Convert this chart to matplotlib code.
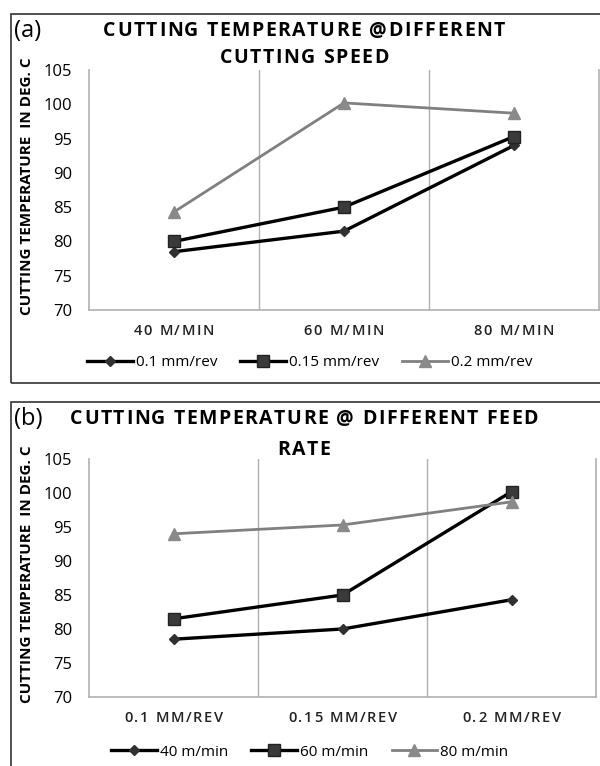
import numpy as np
import matplotlib
matplotlib.use('Agg')
import matplotlib.pyplot as plt
from matplotlib.patches import Rectangle

# panel (a): temperature vs cutting speed, one line per feed
speed_labels = ['40 M/MIN', '60 M/MIN', '80 M/MIN']
feed_names = ['0.1 mm/rev', '0.15 mm/rev', '0.2 mm/rev']
temp_f01 = [78.5, 81.5, 94.0]
temp_f015 = [80.0, 85.0, 95.3]
temp_f02 = [84.3, 100.2, 98.7]

# panel (b): temperature vs feed rate, one line per speed
feed_labels = ['0.1 MM/REV', '0.15 MM/REV', '0.2 MM/REV']
speed_names = ['40 m/min', '60 m/min', '80 m/min']
temp_s40 = [78.5, 80.0, 84.3]
temp_s60 = [81.5, 85.0, 100.2]
temp_s80 = [94.0, 95.3, 98.7]

plt.rcParams['font.family'] = ['Open Sans', 'DejaVu Sans']

W, H = 600, 766
fig = plt.figure(figsize=(W / 100, H / 100), dpi=100)
renderer = fig.canvas.get_renderer()

styles = [
    dict(color='black', lw=2.4, marker='D', ms=5, mfc='#303030', mec='#303030'),
    dict(color='black', lw=2.4, marker='s', ms=9, mfc='#3a3a3a', mec='#222222'),
    dict(color='#808080', lw=2.0, marker='^', ms=9, mfc='#8a8a8a', mec='#8a8a8a'),
]


def fx(px):
    return px / W


def fy(py):
    return 1 - py / H


def spaced_text(xc, yc, s, track, **kw):
    # letter-spaced text, centred at pixel (xc, yc)
    widths = []
    for ch in s:
        t = fig.text(0, 0, ch, **kw)
        widths.append(t.get_window_extent(renderer).width)
        t.remove()
    total = sum(widths) + track * (len(s) - 1)
    x = xc - total / 2
    for ch, w in zip(s, widths):
        fig.text(fx(x), fy(yc), ch, ha='left', va='center', **kw)
        x += w + track


def panel(box, ax_px, tag, title, title_y, cats, names, series, leg_y, leg_x):
    # outer frame of the panel
    x0, y0, x1, y1 = box
    fig.patches.append(Rectangle((fx(x0), fy(y1)), fx(x1) - fx(x0), fy(y0) - fy(y1),
                                 transform=fig.transFigure, fill=False,
                                 edgecolor='#333333', lw=1.2))
    l, t, r, b = ax_px
    ax = fig.add_axes([fx(l), fy(b), fx(r) - fx(l), fy(t) - fy(b)])
    x = np.arange(len(cats))
    for vals, name, st in zip(series, names, styles):
        ax.plot(x, vals, label=name, **st)
    ax.set_xlim(-0.5, len(cats) - 0.5)
    ax.set_ylim(70, 105)
    ax.set_yticks(np.arange(70, 106, 5))
    ax.set_xticks(x)
    ax.set_xticklabels([])
    ax.tick_params(axis='both', length=0, labelsize=12)
    ax.tick_params(axis='y', pad=12)
    for xv in [0.5, 1.5]:
        ax.axvline(xv, color='#b0b0b0', lw=1.0, zorder=0)
    for s in ['left', 'right', 'bottom']:
        ax.spines[s].set_color('#b0b0b0')
        ax.spines[s].set_linewidth(1.2)
    ax.spines['top'].set_visible(False)
    # category labels, letter-spaced like the original
    step = (r - l) / len(cats)
    for i, c in enumerate(cats):
        spaced_text(l + step * (i + 0.5), b + 21, c, 1.6, fontsize=10.5,
                    fontweight='semibold', color='#222222')
    fig.text(fx(14), fy(title_y[0]), tag, fontsize=17, ha='left', va='center')
    spaced_text(304, title_y[0], title[0], 1.5, fontsize=14, fontweight='bold')
    spaced_text(304, title_y[1], title[1], 1.5, fontsize=14, fontweight='bold')
    fig.text(fx(27), (fy(t) + fy(b)) / 2 + 0.005, 'CUTTING TEMPERATURE  IN DEG. C',
             rotation=90, fontsize=11, fontweight='bold', ha='center', va='center')
    fig.legend(*ax.get_legend_handles_labels(), loc='center',
               bbox_to_anchor=(fx(leg_x), fy(leg_y)), ncol=3, frameon=False,
               fontsize=11, handlelength=3.0, columnspacing=1.5, handletextpad=0.2)
    return ax


panel((11, 14, 640, 383), (89, 70, 599, 310), '(a)',
      ['CUTTING TEMPERATURE @DIFFERENT', 'CUTTING SPEED'], (31, 58),
      speed_labels, feed_names, [temp_f01, temp_f015, temp_f02], 363, 310)

panel((11, 402, 640, 800), (89, 459, 596, 697), '(b)',
      ['CUTTING TEMPERATURE @ DIFFERENT FEED', 'RATE'], (419, 450),
      feed_labels, speed_names, [temp_s40, temp_s60, temp_s80], 752, 310)

fig.savefig('out.png', dpi=100)
